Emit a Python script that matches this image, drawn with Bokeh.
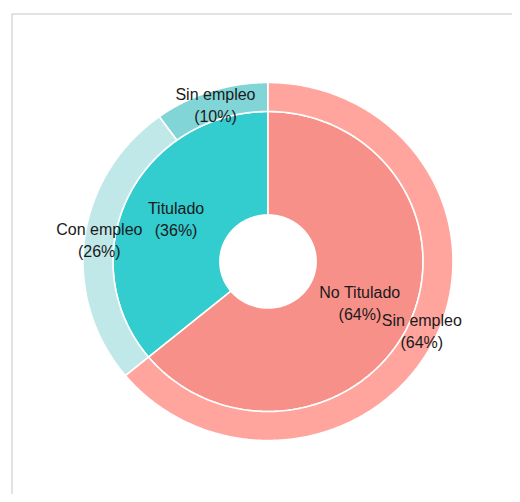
import numpy as np
from bokeh.plotting import figure
from bokeh.models import Span, ColumnDataSource
from bokeh.core.properties import value
from bokeh.embed import file_html
from bokeh.resources import INLINE

# Inner ring (titulación)
inner_labels = ["Titulado", "No Titulado"]
inner_values = [36, 64]
inner_colors = ["#33CCCF", "#F8908A"]

# Outer ring (empleo), in drawing order counter-clockwise from the top
outer_labels = ["Sin empleo", "Con empleo", "Sin empleo"]
outer_values = [10, 26, 64]
outer_colors = ["#81D5D6", "#C1E8E9", "#FFA59E"]

R_HOLE, R_MID, R_OUT = 0.26, 0.838, 1.0

p = figure(width=512, height=494, output_backend="svg", toolbar_location=None,
           x_range=(-1.3865, 1.3216), y_range=(-1.3017, 1.3855),
           min_border_left=11, min_border_top=13, min_border_right=0, min_border_bottom=0)
p.axis.visible = False
p.grid.visible = False
p.outline_line_color = None
p.background_fill_color = "white"


def ring(values, colors, labels, r0, r1):
    vals = np.array(values, dtype=float)
    frac = vals / vals.sum()
    ends = np.pi / 2 + 2 * np.pi * np.cumsum(frac)
    starts = ends - 2 * np.pi * frac
    xs, ys, lx, ly = [], [], [], []
    for a0, a1 in zip(starts, ends):
        t = np.linspace(a0, a1, 240)
        xs.append(list(np.concatenate([r1 * np.cos(t), r0 * np.cos(t[::-1])])))
        ys.append(list(np.concatenate([r1 * np.sin(t), r0 * np.sin(t[::-1])])))
        am = (a0 + a1) / 2
        rm = (r0 + r1) / 2
        lx.append(rm * np.cos(am))
        ly.append(rm * np.sin(am))
    src = ColumnDataSource(dict(xs=xs, ys=ys, color=colors))
    p.patches("xs", "ys", source=src, fill_color="color", line_color="white",
              line_width=1.6)
    tsrc = ColumnDataSource(dict(x=lx, y=ly, name=labels,
                                 pct=[f"({int(v)}%)" for v in values]))
    for col, off in (("name", -11), ("pct", 11)):
        p.text("x", "y", text=col, source=tsrc, y_offset=off,
               text_align="center", text_baseline="middle",
               text_font=value("Liberation Sans"), text_font_size="16px",
               text_color="#1a1a1a")


ring(inner_values, inner_colors, inner_labels, R_HOLE, R_MID)
ring(outer_values, outer_colors, outer_labels, R_MID, R_OUT)

p.add_layout(Span(location=p.x_range.start, dimension="height",
                  line_color="#c8c8c8", line_width=2))
p.add_layout(Span(location=p.y_range.end, dimension="width",
                  line_color="#c8c8c8", line_width=2))

open("out.html", "w").write(file_html(p, INLINE))
